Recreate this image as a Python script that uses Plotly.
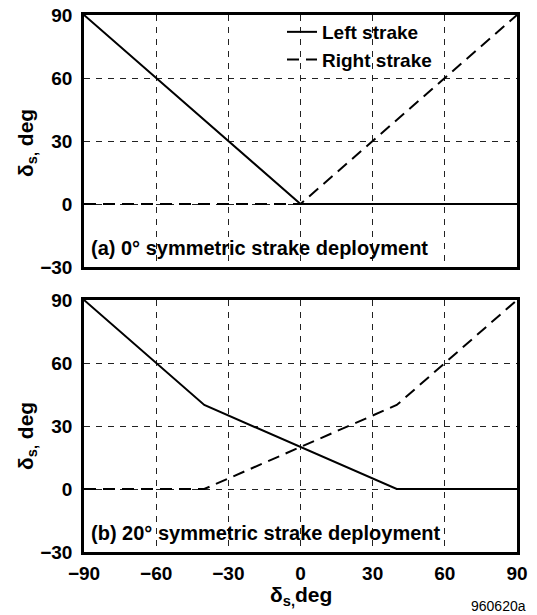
import plotly.graph_objects as go
from plotly.subplots import make_subplots

# deflection of the control input (x) and strake deflections
x_a = [-90, 0, 90]
left_a = [90, 0, 0]
right_a = [0, 0, 90]

x_b = [-90, -40, 40, 90]
left_b = [90, 40, 0, 0]
right_b = [0, 0, 40, 90]

ticks = [-90, -60, -30, 0, 30, 60, 90]
yticks = [-30, 0, 30, 60, 90]

FONT = "Liberation Sans, Arial, sans-serif"

fig = make_subplots(rows=2, cols=1, vertical_spacing=33 / 537)

fig.add_trace(go.Scatter(x=x_a, y=left_a, mode='lines', name='Left strake',
                         line=dict(color='black', width=2)), row=1, col=1)
fig.add_trace(go.Scatter(x=x_a, y=right_a, mode='lines', name='Right strake',
                         line=dict(color='black', width=2, dash='12px,7px')), row=1, col=1)
fig.add_trace(go.Scatter(x=x_b, y=left_b, mode='lines', showlegend=False,
                         line=dict(color='black', width=2)), row=2, col=1)
fig.add_trace(go.Scatter(x=x_b, y=right_b, mode='lines', showlegend=False,
                         line=dict(color='black', width=2, dash='12px,7px')), row=2, col=1)

axis_style = dict(showgrid=True, gridcolor='#222', gridwidth=1, griddash='6px,6px',
                  zeroline=False, showline=True, linecolor='black', linewidth=2.5,
                  mirror=True, ticks='', automargin=False,
                  tickfont=dict(family=FONT, size=19, color='black', weight='bold'))

fig.update_xaxes(range=[-90, 90], tickvals=ticks, **axis_style)
fig.update_xaxes(showticklabels=False, row=1, col=1)
fig.update_xaxes(ticklabelstandoff=2, row=2, col=1)
fig.update_yaxes(range=[-30, 90], tickvals=yticks, ticklabelstandoff=5, **axis_style)

bold = dict(family=FONT, size=20, color='black', weight='bold')
fig.add_annotation(text='(a) 0° symmetric strake deployment', xref='paper', yref='paper',
                   x=0.011, y=0.5307 + 19 / 537, xanchor='left', yanchor='middle',
                   showarrow=False, font=bold)
fig.add_annotation(text='(b) 20° symmetric strake deployment', xref='paper', yref='paper',
                   x=0.011, y=19 / 537, xanchor='left', yanchor='middle',
                   showarrow=False, font=bold)
# axis titles
for yc in [(552 - 143) / 537, (552 - 436) / 537]:
    fig.add_annotation(text='δ<sub>s,</sub> deg', xref='paper', yref='paper',
                       x=(27 - 84) / 433, y=yc, xanchor='center', yanchor='middle',
                       textangle=-90, showarrow=False,
                       font=dict(family=FONT, size=21, color='black', weight='bold'))
fig.add_annotation(text='δ<sub>s,</sub>deg', xref='paper', yref='paper',
                   x=0.5, y=(552 - 596) / 537, xanchor='center', yanchor='middle',
                   showarrow=False,
                   font=dict(family=FONT, size=21, color='black', weight='bold'))
fig.add_annotation(text='960620a', xref='paper', yref='paper',
                   x=(528 - 84) / 433, y=(552 - 606) / 537, xanchor='right', yanchor='middle',
                   showarrow=False, font=dict(family=FONT, size=14, color='black'))

fig.update_layout(
    width=537, height=615,
    margin=dict(l=84, r=20, t=15, b=63),
    plot_bgcolor='white', paper_bgcolor='white',
    legend=dict(x=(282 - 84) / 433, y=(552 - 13) / 537, xanchor='left', yanchor='top',
                bgcolor='rgba(0,0,0,0)', font=dict(family=FONT, size=19, color='black', weight='bold'),
                tracegroupgap=0),
)

fig.write_html("out.html", config={'displayModeBar': False},
               post_script="document.body.style.margin='0';")
